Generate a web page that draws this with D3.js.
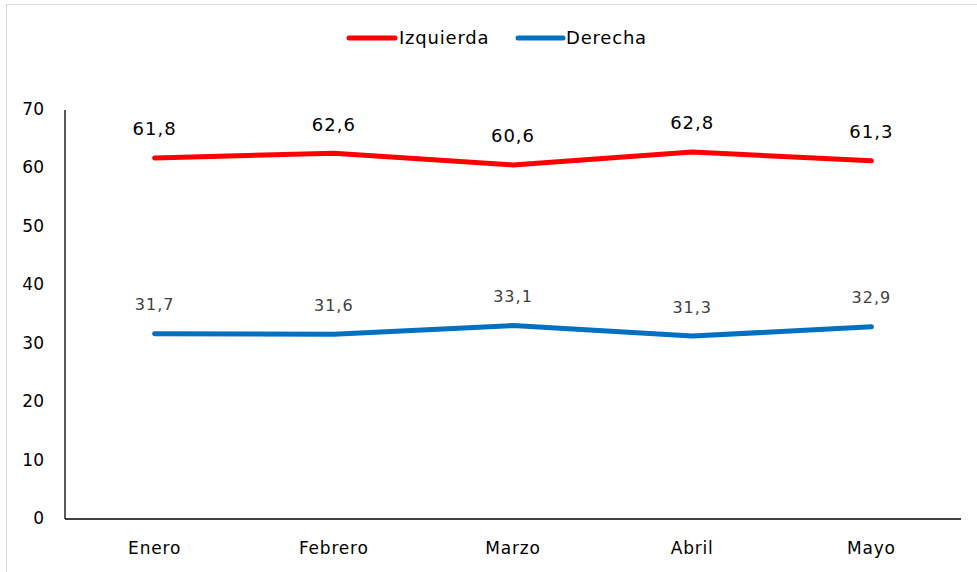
<!DOCTYPE html>
<html><head><meta charset="utf-8">
<script src="https://cdn.jsdelivr.net/npm/d3@7"></script>
<style>body{margin:0;background:#fff}svg{display:block}text{font-family:"DejaVu Sans",Arial,sans-serif}</style>
</head><body>
<svg id="c" width="977" height="572"></svg>
<script>
const categories = ["Enero","Febrero","Marzo","Abril","Mayo"];
const izquierda = [61.8, 62.6, 60.6, 62.8, 61.3];
const derecha = [31.7, 31.6, 33.1, 31.3, 32.9];
const yTicks = [0,10,20,30,40,50,60,70];
const seriesNames = ["Izquierda","Derecha"];
const colors = ["#ff0000","#0070c0"];
const labelColors = ["#000000","#404040"];

const svg = d3.select("#c");
svg.append("rect").attr("x",6.5).attr("y",4.5).attr("width",975).attr("height",575)
  .attr("fill","#fff").attr("stroke","#d9d9d9");

const L=65, R=961, T=110, B=519;
const x = d3.scaleBand().domain(categories).range([L,R]);
const y = d3.scaleLinear().domain([0,70]).range([B,T]);

svg.append("line").attr("x1",L).attr("x2",L).attr("y1",T).attr("y2",B).attr("stroke","#000").attr("stroke-width",1.3);
svg.append("line").attr("x1",L).attr("x2",R).attr("y1",B).attr("y2",B).attr("stroke","#000").attr("stroke-width",1.3);

svg.selectAll(".yt").data(yTicks).join("text")
  .attr("x",44).attr("y",d=>y(d)-1).attr("dy","0.35em").attr("text-anchor","end")
  .attr("font-size",17).attr("fill","#000").text(d=>d);

svg.selectAll(".xt").data(categories).join("text")
  .attr("x",d=>x(d)+x.bandwidth()/2).attr("y",548).attr("dy","0.35em").attr("text-anchor","middle")
  .attr("font-size",17).attr("letter-spacing",0.8).attr("fill","#000").text(d=>d);

const data = [izquierda, derecha];
const line = d3.line().x((d,i)=>x(categories[i])+x.bandwidth()/2).y(d=>y(d));
data.forEach((vals,si)=>{
  svg.append("path").datum(vals).attr("d",line).attr("fill","none")
    .attr("stroke",colors[si]).attr("stroke-width",5).attr("stroke-linecap","round").attr("stroke-linejoin","round");
  svg.selectAll(".lab"+si).data(vals).join("text")
    .attr("x",(d,i)=>x(categories[i])+x.bandwidth()/2)
    .attr("y",d=>y(d)-29).attr("dy","0.35em").attr("text-anchor","middle")
    .attr("font-size",si===0?18:16).attr("letter-spacing",1).attr("fill",labelColors[si])
    .text(d=>d3.format(".1f")(d).replace(".",","));
});

const leg = [{x0:349,x1:395,tx:399},{x0:518,x1:563,tx:566}];
seriesNames.forEach((n,i)=>{
  svg.append("line").attr("x1",leg[i].x0).attr("x2",leg[i].x1).attr("y1",38).attr("y2",38)
    .attr("stroke",colors[i]).attr("stroke-width",5).attr("stroke-linecap","round");
  svg.append("text").attr("x",leg[i].tx).attr("y",38).attr("dy","0.35em")
    .attr("font-size",18).attr("letter-spacing",0.8).attr("fill","#000").text(n);
});
</script>
</body></html>
